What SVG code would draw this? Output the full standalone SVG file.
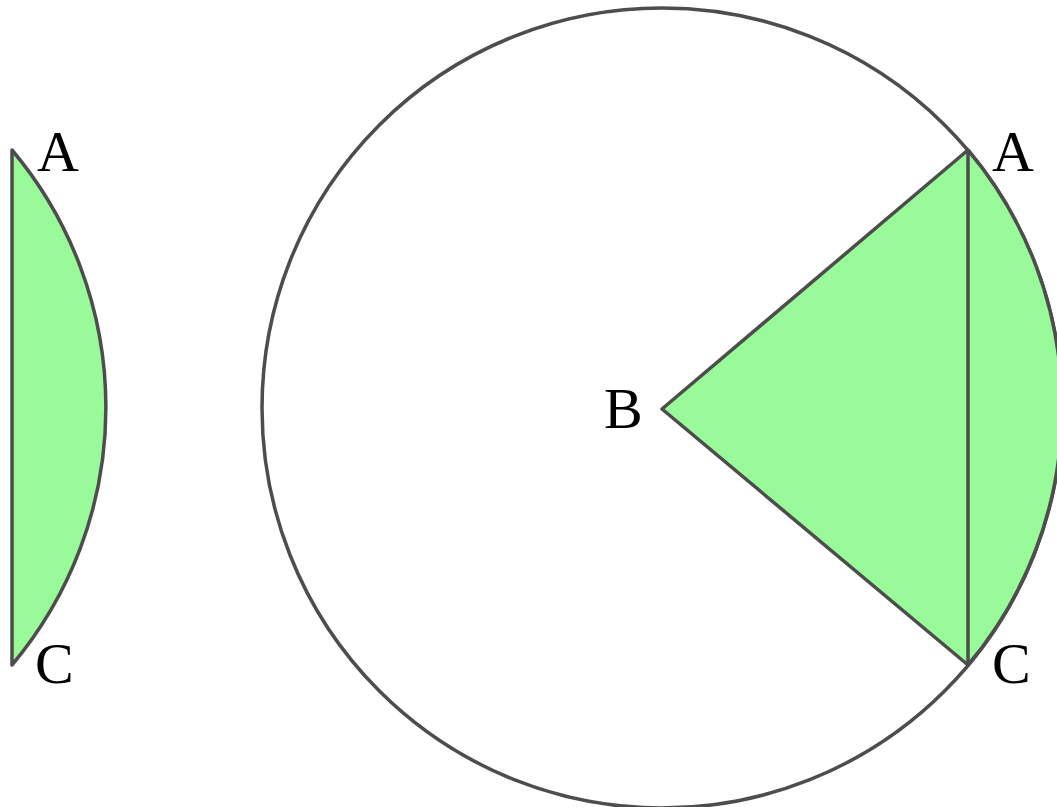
<svg xmlns="http://www.w3.org/2000/svg" width="1057" height="807" viewBox="0 0 1057 807">
<style>
.ln{stroke:#4d4d4d;stroke-width:3.5;stroke-linejoin:round;}
.fill{fill:#99fa99;}
.lbl{font-family:"Liberation Serif","DejaVu Serif",serif;font-size:58px;fill:#000;}
</style>
<rect width="1057" height="807" fill="#fff"/>
<g id="segment-left">
<path class="ln fill" d="M12,150 A400,400 0 0 1 12,665 Z"/>
<text class="lbl" x="37" y="171">A</text>
<text class="lbl" x="35" y="683">C</text>
</g>
<g id="circle">
<circle class="ln" cx="662" cy="408" r="400" fill="none"/>
</g>
<g id="sector">
<path class="ln fill" d="M662,409 L968,150 A400,400 0 0 1 968,665 Z"/>
<line class="ln" x1="968" y1="150" x2="968" y2="665"/>
</g>
<g id="labels">
<text class="lbl" x="992" y="171">A</text>
<text class="lbl" x="604" y="428">B</text>
<text class="lbl" x="992" y="683">C</text>
</g>
</svg>
